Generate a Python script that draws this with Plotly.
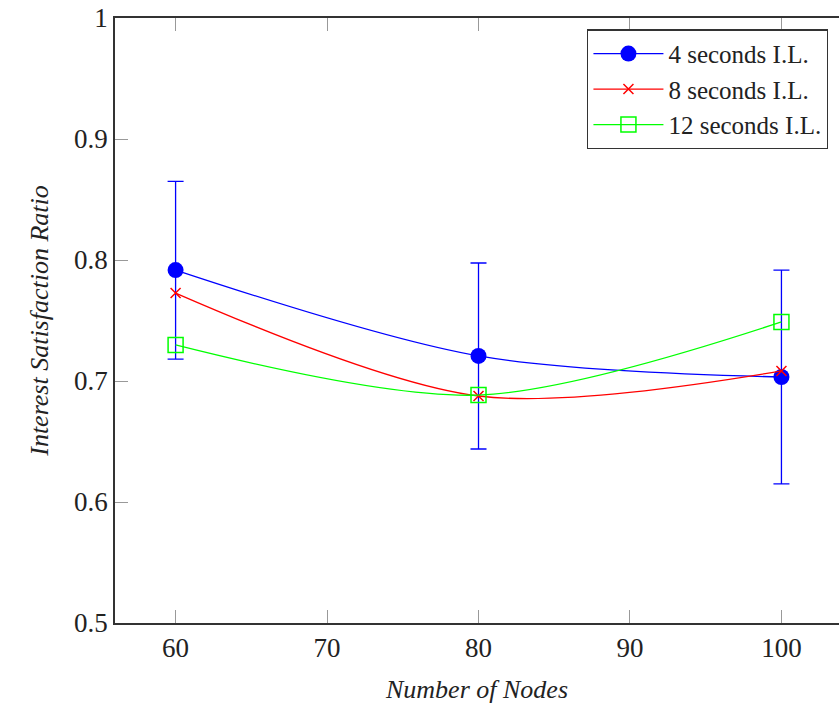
import plotly.graph_objects as go

nodes = [60, 80, 100]
il4 = [0.7917, 0.7207, 0.7033]
il4_err_plus = [0.0733, 0.0768, 0.0884]
il4_err_minus = [0.0737, 0.0769, 0.0884]
il8 = [0.7727, 0.6876, 0.7083]
il12 = [0.7298, 0.6884, 0.7488]

x_ticks = [60, 70, 80, 90, 100]
y_ticks = [0.5, 0.6, 0.7, 0.8, 0.9, 1.0]
y_tick_text = ["0.5", "0.6", "0.7", "0.8", "0.9", "1"]

serif = "Liberation Serif, Times New Roman, serif"

fig = go.Figure()
fig.add_trace(go.Scatter(
    x=nodes, y=il4, name="4 seconds I.L.", mode="lines+markers",
    line=dict(color="#0000ff", width=1.3, shape="spline", smoothing=0.9),
    marker=dict(symbol="circle", size=16, color="#0000ff"),
    error_y=dict(type="data", array=il4_err_plus, arrayminus=il4_err_minus,
                 color="#0000ff", thickness=1.3, width=8, symmetric=False),
))
fig.add_trace(go.Scatter(
    x=nodes, y=il8, name="8 seconds I.L.", mode="lines+markers",
    line=dict(color="#ff0000", width=1.3, shape="spline", smoothing=0.9),
    marker=dict(symbol="x-thin", size=10, color="#ff0000",
                line=dict(color="#ff0000", width=1.5)),
))
fig.add_trace(go.Scatter(
    x=nodes, y=il12, name="12 seconds I.L.", mode="lines+markers",
    line=dict(color="#00ff00", width=1.3, shape="spline", smoothing=0.9),
    marker=dict(symbol="square-open", size=15, color="#00ff00",
                line=dict(color="#00ff00", width=1.5)),
))

fig.update_layout(
    width=839, height=704,
    margin=dict(l=115, r=0, t=18, b=81),
    plot_bgcolor="white", paper_bgcolor="white",
    showlegend=True,
    legend=dict(x=0.985, y=0.981, xanchor="right", yanchor="top",
                bgcolor="white", bordercolor="#333333", borderwidth=1.3,
                font=dict(family=serif, size=25, color="#222222"),
                itemwidth=70),
    xaxis=dict(range=[56, 103.8], tickvals=x_ticks, ticks="inside", ticklen=13,
               tickcolor="#999999", tickwidth=1.2, showgrid=False, zeroline=False,
               showline=True, linecolor="#333333", linewidth=1.5, mirror="ticks",
               automargin=False,
               tickfont=dict(family=serif, size=27, color="#222222"),
               title=dict(text="<i>Number of Nodes</i>", standoff=20,
                          font=dict(family=serif, size=26, color="#222222"))),
    yaxis=dict(range=[0.5, 1.0], tickvals=y_ticks, ticktext=y_tick_text,
               ticks="inside", ticklen=13, automargin=False,
               tickcolor="#999999", tickwidth=1.2, showgrid=False, zeroline=False,
               showline=True, linecolor="#333333", linewidth=1.5, mirror=False,
               tickfont=dict(family=serif, size=27, color="#222222"),
               title=dict(text="<i>Interest Satisfaction Ratio</i>", standoff=18,
                          font=dict(family=serif, size=26, color="#222222"))),
    yaxis2=dict(range=[0.5, 1.0], tickvals=y_ticks, overlaying="y", side="right",
                ticks="inside", ticklen=13, tickcolor="#999999", tickwidth=1.2,
                showticklabels=False, showgrid=False, zeroline=False, showline=False,
                automargin=False),
)

fig.write_html("out.html", config={"displayModeBar": False})
